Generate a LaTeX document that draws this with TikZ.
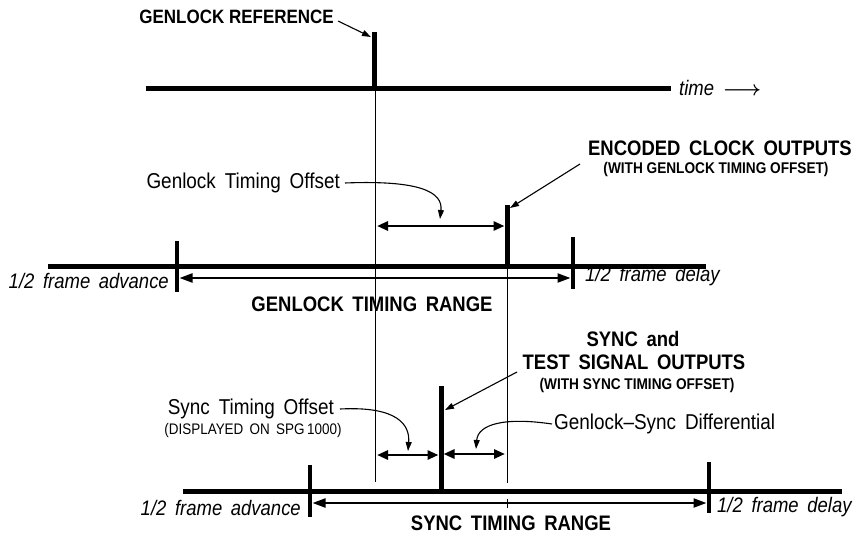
\documentclass[tikz,border=0pt]{standalone}
\usepackage{amsmath}
\usepackage{fontspec}
\setmainfont[FakeStretch=0.88]{Liberation Sans}
\usetikzlibrary{arrows.meta}
\begin{document}
\begin{tikzpicture}[x=1pt,y=-1pt,
  baseline/.style={line width=5pt},
  pulseline/.style={line width=5pt},
  guide/.style={line width=0.6pt},
  tickmark/.style={line width=4pt},
  smalltick/.style={line width=1pt},
  dbl/.style={line width=2.8pt,{Triangle[length=11pt,width=9pt]}-{Triangle[length=11pt,width=9pt]}},
  rangearrow/.style={line width=2.2pt,{Triangle[length=13pt,width=9pt]}-{Triangle[length=13pt,width=9pt]}},
  callout/.style={line width=1.1pt,-{Triangle[length=9pt,width=6pt]}},
  lbl/.style={inner sep=0pt,font=\fontsize{21.5}{23}\selectfont},
  bigb/.style={inner sep=0pt,font=\fontsize{21}{23}\selectfont\bfseries},
  smallb/.style={inner sep=0pt,font=\fontsize{15.5}{17}\selectfont\bfseries},
  ital/.style={inner sep=0pt,font=\fontsize{21}{23}\selectfont\itshape},
  caps/.style={inner sep=0pt,font=\fontsize{15.3}{17}\selectfont}]
\useasboundingbox (0,0) rectangle (859,541);
\fill[white] (0,0) rectangle (859,541);

% ---------- top: genlock reference ----------
\coordinate (t0) at (146,88);
\coordinate (t1) at (671,88);
\coordinate (refbot) at (374,88);
\coordinate (reftop) at (374,32);
\coordinate (reftip) at (371,37);
\draw[baseline] (t0) -- (t1);
\draw[pulseline] (refbot) -- (reftop);
\coordinate (g0) at (375,88);
\coordinate (g1) at (375,482);
\draw[guide] (g0) -- (g1);

\node[bigb,anchor=east,font=\fontsize{19.3}{21}\selectfont\bfseries] (gref) at (334,17) {GENLOCK REFERENCE};
\draw[callout] ([shift={(4,4)}]gref.east) -- (reftip);
\node[ital,anchor=west] (time) at (679,88) {time\, $\boldsymbol{\longrightarrow}$};

% ---------- middle: encoded clock ----------
\coordinate (m0) at (48,266);
\coordinate (m1) at (706,266);
\draw[baseline] (m0) -- (m1);
\coordinate (ml0) at (177,241); \coordinate (ml1) at (177,292);
\coordinate (mr0) at (573,237); \coordinate (mr1) at (573,289);
\draw[tickmark] (ml0) -- (ml1);
\draw[tickmark] (mr0) -- (mr1);
\coordinate (encbot) at (507,266);
\coordinate (enctop) at (507,205);
\draw[pulseline] (encbot) -- (enctop);
\coordinate (h0) at (507,266);
\coordinate (h1) at (507,483);
\draw[guide] (h0) -- (h1);

\coordinate (go0) at (377,226);
\coordinate (go1) at (504.5,226);
\draw[dbl] (go0) -- (go1);

\coordinate (gr0) at (179.5,278);
\coordinate (gr1) at (570.5,278);
\draw[rangearrow] (gr0) -- (gr1);
\coordinate (gm0) at (375,273.5);
\coordinate (gm1) at (375,282.5);
\draw[smalltick] (gm0) -- (gm1);

\node[lbl,anchor=east] (gto) at (340,183) {Genlock\, Timing\, Offset};
\coordinate (gtotip) at (440,219);
\draw[callout] ([xshift=5pt]gto.east) .. controls (420,180) and (443,192) .. (gtotip);

\node[bigb] (enc) at (720,148) {ENCODED\, CLOCK\, OUTPUTS};
\node[smallb] (encsub) at (716,169) {(WITH GENLOCK TIMING OFFSET)};
\coordinate (encstart) at (580,164);
\coordinate (enctip) at (510,208);
\draw[callout] (encstart) -- (enctip);

\node[ital,anchor=east] (adv1) at (169,281) {1/2\, frame\, advance};
\node[ital,anchor=west] (del1) at (585,276) {1/2\, frame\, delay};
\node[bigb] (gtr) at (372,304) {GENLOCK\, TIMING\, RANGE};

% ---------- bottom: sync ----------
\coordinate (b0) at (183,491);
\coordinate (b1) at (842,491);
\draw[baseline] (b0) -- (b1);
\coordinate (bl0) at (310,465); \coordinate (bl1) at (310,517);
\coordinate (br0) at (709,462); \coordinate (br1) at (709,513);
\draw[tickmark] (bl0) -- (bl1);
\draw[tickmark] (br0) -- (br1);
\coordinate (sbot) at (441,491);
\coordinate (stop) at (441,386);
\draw[pulseline] (sbot) -- (stop);

\coordinate (so0) at (377,455);
\coordinate (so1) at (438.5,455);
\draw[dbl] (so0) -- (so1);
\coordinate (sd0) at (443.5,454);
\coordinate (sd1) at (505,454);
\draw[dbl] (sd0) -- (sd1);

\coordinate (sr0) at (312.5,503);
\coordinate (sr1) at (706.5,503);
\draw[rangearrow] (sr0) -- (sr1);
\coordinate (sm0) at (507,498.5);
\coordinate (sm1) at (507,507.5);
\draw[smalltick] (sm0) -- (sm1);

\node[bigb] (sync1) at (633,339) {SYNC\, and};
\node[bigb] (sync2) at (634,362) {TEST\, SIGNAL\, OUTPUTS};
\node[smallb] (sync3) at (637,385) {(WITH SYNC TIMING OFFSET)};
\coordinate (syncstart) at (517,372);
\coordinate (synctip) at (445,410);
\draw[callout] (syncstart) -- (synctip);

\node[lbl,anchor=east] (sto) at (334,409) {Sync\, Timing\, Offset};
\node[caps] (disp) at (253,431) {(DISPLAYED\, ON\, SPG\,1000)};
\coordinate (stotip) at (408,451);
\draw[callout] ([xshift=6pt]sto.east) .. controls (398,406) and (410,425) .. (stotip);

\node[lbl,anchor=west] (gsd) at (554,424) {Genlock--Sync\, Differential};
\coordinate (gsdtip) at (476,449);
\draw[callout] ([xshift=-2pt]gsd.west) .. controls (505,417) and (478,424) .. (gsdtip);

\node[ital,anchor=east] (adv2) at (301,508) {1/2\, frame\, advance};
\node[ital,anchor=west] (del2) at (717,507) {1/2\, frame\, delay};
\node[bigb] (str) at (511,523) {SYNC\, TIMING\, RANGE};
\end{tikzpicture}
\end{document}
